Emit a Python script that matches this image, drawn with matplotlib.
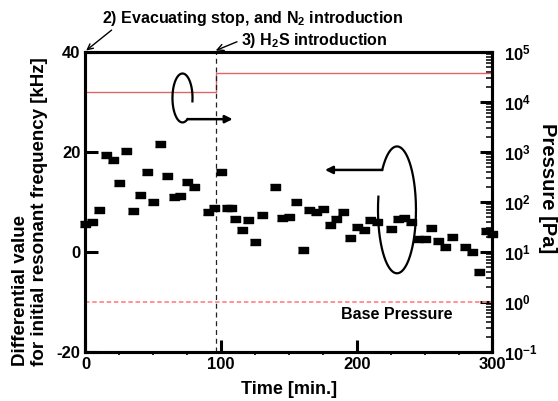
import numpy as np
import matplotlib
matplotlib.use('Agg')
from matplotlib import pyplot as plt
from matplotlib.ticker import MultipleLocator, LogLocator, NullFormatter

plt.rcParams['font.family'] = ['Liberation Sans', 'DejaVu Sans']
plt.rcParams['font.weight'] = 'bold'
plt.rcParams['mathtext.fontset'] = 'custom'
plt.rcParams['mathtext.rm'] = 'Liberation Sans:bold'
plt.rcParams['mathtext.bf'] = 'Liberation Sans:bold'
plt.rcParams['mathtext.default'] = 'rm'
plt.rcParams['axes.unicode_minus'] = False

# frequency shift data (left axis)
time_min = [0, 5, 10, 15, 20, 25, 30, 35, 40, 45, 50, 55, 60, 65, 70, 75, 80,
            90, 95, 100, 104, 107, 110, 115, 120, 125, 130, 140, 145, 150,
            155, 160, 165, 170, 175, 180, 185, 190, 195, 200, 205, 210, 215,
            225, 230, 235, 240, 245, 250, 255, 260, 265, 270, 280, 285, 290,
            295, 300]
freq_khz = [5.5, 5.9, 8.3, 19.3, 18.3, 13.7, 20.2, 8.1, 11.4, 16.0, 9.9, 21.6,
            15.2, 11.0, 11.2, 13.9, 13.0, 7.9, 8.7, 15.9, 8.8, 8.8, 6.5, 4.4,
            6.4, 1.9, 7.4, 12.9, 6.8, 7.0, 10.0, 0.3, 8.4, 7.9, 8.5, 5.3, 6.5,
            8.0, 2.7, 4.9, 4.4, 6.4, 6.0, 4.6, 6.5, 6.7, 6.0, 2.6, 2.6, 4.7,
            2.2, 0.9, 2.9, 0.9, 0.0, -4.0, 4.2, 3.5]

# pressure history (right axis)
p_time = [0, 0, 96, 96, 300]
p_pa = [1.0, 1.56e4, 1.56e4, 3.86e4, 3.86e4]
base_pressure = 1.0
h2s_time = 96

fig = plt.figure(figsize=(5.58, 4.01), dpi=100)
ax = fig.add_axes([0.1532, 0.1229, 0.7294, 0.7474])
ax2 = ax.twinx()

# pressure on log axis
ax2.set_yscale('log')
ax2.set_ylim(0.1, 1e5)
ax2.plot(p_time, p_pa, color='#e06666', lw=1.0, zorder=2)
ax2.axhline(base_pressure, color='#ff8a8a', lw=1.3, ls=(0, (2.5, 1.5)))
ax2.yaxis.set_major_locator(LogLocator(base=10, numticks=10))
ax2.yaxis.set_minor_locator(LogLocator(base=10, subs=np.arange(2, 10), numticks=20))
ax2.yaxis.set_minor_formatter(NullFormatter())
ax2.tick_params(axis='y', which='major', direction='in', length=9, width=2.2,
                labelsize=12, pad=8)
ax2.tick_params(axis='y', which='minor', direction='in', length=4.5, width=1.1)
fig.text(0.982, 0.532, 'Pressure [Pa]', rotation=270, ha='center', va='center',
         fontsize=14.5, fontweight='bold')

# frequency on linear axis
ax.set_zorder(ax2.get_zorder() + 1)
ax.patch.set_visible(False)
ax.axvline(h2s_time, color='#222222', lw=0.9, ls=(0, (4, 3)))
marker = [(-1.35, -1), (1.35, -1), (1.35, 1), (-1.35, 1)]
ax.plot(time_min, freq_khz, ls='none', marker=marker, ms=6.8, color='black',
        clip_on=False, zorder=5)
ax.set_xlim(0, 300)
ax.set_ylim(-20, 40)
ax.xaxis.set_major_locator(MultipleLocator(100))
ax.xaxis.set_minor_locator(MultipleLocator(25))
ax.yaxis.set_major_locator(MultipleLocator(20))
ax.tick_params(axis='both', which='major', direction='in', length=9, width=2.2,
               labelsize=12)
ax.tick_params(axis='x', which='minor', direction='out', length=2.5, width=1.2)
ax.tick_params(axis='x', pad=4)
for a in (ax, ax2):
    for sp in a.spines.values():
        sp.set_linewidth(2.2)

ax.set_xlabel('Time [min.]', fontsize=13, fontweight='bold', labelpad=6)
fig.text(0.054, 0.473, 'Differential value\nfor initial resonant frequency [kHz]',
         rotation=90, ha='center', va='center', multialignment='left',
         fontsize=13.5, fontweight='bold', linespacing=1.15)

# loops with arrows pointing to the axis each series belongs to
phi = np.deg2rad(np.linspace(-8, 300, 200))
tc, vc, a, b = 71.5, 30.8, 7.4, 4.9
ax.plot(tc + a * np.cos(phi), vc + b * np.sin(phi), color='black', lw=1.6)
y0 = vc + b * np.sin(phi[-1])
ax.annotate('', xy=(108.5, y0), xytext=(tc + a * np.cos(phi[-1]), y0),
            arrowprops=dict(arrowstyle='-|>', lw=1.8, color='black',
                            mutation_scale=11, shrinkA=0, shrinkB=0))

phi = np.deg2rad(np.linspace(168, 501, 300))
tc, vc, a, b = 229.6, 8.4, 14.0, 12.7
ax.plot(tc + a * np.cos(phi), vc + b * np.sin(phi), color='black', lw=1.6)
y0 = vc + b * np.sin(phi[-1])
ax.annotate('', xy=(176.5, y0), xytext=(tc + a * np.cos(phi[-1]), y0),
            arrowprops=dict(arrowstyle='-|>', lw=1.8, color='black',
                            mutation_scale=11, shrinkA=0, shrinkB=0))

ax2.text(188, 0.55, 'Base Pressure', fontsize=11.5, fontweight='bold',
         ha='left', va='center')

# event annotations above the plot
fig.text(0.452, 0.954, '2) Evacuating stop, and N$_2$ introduction',
         ha='center', va='center', fontsize=11.5, fontweight='bold')
ax.annotate('', xy=(0.5, 40.3), xytext=(0.2, 0.925),
            textcoords='figure fraction', annotation_clip=False,
            arrowprops=dict(arrowstyle='->', lw=1.0, color='black',
                            shrinkA=0, shrinkB=0))
ax.annotate('3) H$_2$S introduction', xy=(96, 40.3),
            xytext=(0.432, 0.9), textcoords='figure fraction',
            ha='left', va='center', fontsize=11.5, fontweight='bold',
            annotation_clip=False,
            arrowprops=dict(arrowstyle='->', lw=1.0, color='black',
                            shrinkA=1, shrinkB=0, relpos=(0, 0.5)))

fig.savefig('out.png', dpi=100)
